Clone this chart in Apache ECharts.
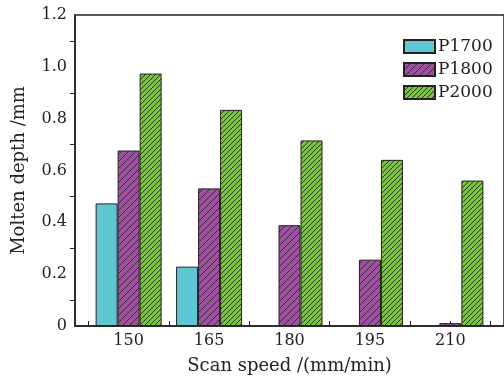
<!DOCTYPE html>
<html>
<head>
<meta charset="utf-8">
<script src="https://cdn.jsdelivr.net/npm/echarts@6/dist/echarts.min.js"></script>
<style>
  html, body { margin: 0; padding: 0; background: #fff; }
  #chart { width: 504px; height: 380px; }
</style>
</head>
<body>
<div id="chart"></div>
<script>
// scan speed (mm/min)
var speeds = [150, 165, 180, 195, 210]
var xTicks = [142.5, 150, 157.5, 165, 172.5, 180, 187.5, 195, 202.5, 210, 217.5]
// molten depth (mm) for each laser power
var p1700 = [0.473, 0.229, null, null, null]
var p1800 = [0.677, 0.531, 0.389, 0.256, 0.011]
var p2000 = [0.974, 0.834, 0.716, 0.641, 0.561]

var FONT = 'DejaVu Serif'

// diagonal hatch pattern "///"
function hatch(bg, s) {
  var c = document.createElement('canvas')
  c.width = s
  c.height = s
  var ctx = c.getContext('2d')
  ctx.fillStyle = bg
  ctx.fillRect(0, 0, s, s)
  ctx.strokeStyle = '#2a2a2a'
  ctx.lineWidth = 0.9
  ctx.beginPath()
  ctx.moveTo(0, s); ctx.lineTo(s, 0)
  ctx.moveTo(-1, 1); ctx.lineTo(1, -1)
  ctx.moveTo(s - 1, s + 1); ctx.lineTo(s + 1, s - 1)
  ctx.stroke()
  return { image: c, repeat: 'repeat' }
}

function pairs(arr) {
  return speeds.map(function (s, i) { return [s, arr[i]] })
}

var chart = echarts.init(document.getElementById('chart'))
var barStyle = { borderColor: '#222', borderWidth: 1 }

chart.setOption({
  animation: false,
  textStyle: { fontFamily: FONT },
  grid: {
    left: 75, top: 15, width: 437, height: 315,
    show: true, borderColor: '#222', borderWidth: 1.5
  },
  legend: {
    orient: 'vertical',
    left: 403,
    top: 38,
    padding: 0,
    icon: 'rect',
    itemWidth: 31,
    itemHeight: 13,
    itemGap: 6,
    textStyle: { fontFamily: FONT, fontSize: 17, lineHeight: 14, color: '#222', padding: [0, 0, 0, -2] },
    data: ['P1700', 'P1800', 'P2000']
  },
  xAxis: {
    type: 'value',
    min: 140,
    max: 220,
    name: 'Scan speed /(mm/min)',
    nameLocation: 'middle',
    nameGap: 31,
    nameTextStyle: { fontFamily: FONT, fontSize: 18, color: '#222' },
    axisLine: { lineStyle: { color: '#222', width: 1.5 } },
    axisTick: { inside: true, length: 5, customValues: xTicks, lineStyle: { color: '#222' } },
    axisLabel: { customValues: speeds, margin: 7, fontFamily: FONT, fontSize: 16, color: '#222' },
    splitLine: { show: false }
  },
  yAxis: {
    type: 'value',
    min: 0,
    max: 1.2,
    interval: 0.2,
    name: 'Molten depth /mm',
    nameLocation: 'middle',
    nameGap: 47,
    nameTextStyle: { fontFamily: FONT, fontSize: 18, color: '#222' },
    axisLine: { show: true, lineStyle: { color: '#222', width: 1.5 } },
    axisTick: { show: false },
    minorTick: { show: true, splitNumber: 2, length: 5, lineStyle: { color: '#222' } },
    axisLabel: {
      margin: 8, fontFamily: FONT, fontSize: 16, color: '#222',
      formatter: function (v) { return v === 0 ? '0' : v.toFixed(1) }
    },
    splitLine: { show: false }
  },
  series: [
    {
      name: 'P1700', type: 'bar', barWidth: 22, barGap: 0,
      itemStyle: Object.assign({ color: '#5fc7d3' }, barStyle),
      data: pairs(p1700)
    },
    {
      name: 'P1800', type: 'bar', barWidth: 22, barGap: 0,
      itemStyle: Object.assign({ color: hatch('#9d519e', 7) }, barStyle),
      data: pairs(p1800)
    },
    {
      name: 'P2000', type: 'bar', barWidth: 22, barGap: 0,
      itemStyle: Object.assign({ color: hatch('#79c33d', 5) }, barStyle),
      data: pairs(p2000)
    }
  ]
})
</script>
</body>
</html>
